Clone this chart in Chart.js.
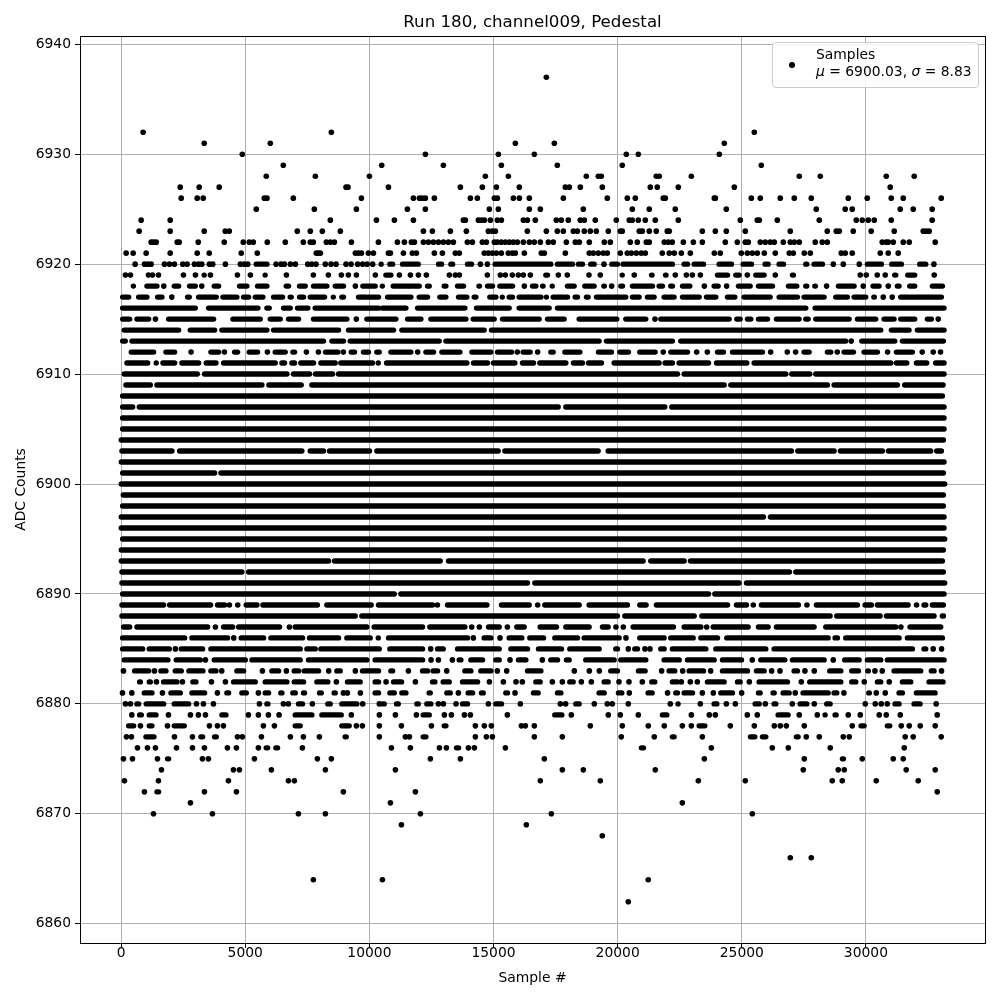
<!DOCTYPE html>
<html>
<head>
<meta charset="utf-8">
<title>Run 180, channel009, Pedestal</title>
<script src="https://cdn.jsdelivr.net/npm/chart.js@4"></script>
<style>
  html, body { margin: 0; padding: 0; background: #fff; }
  #wrap { position: relative; width: 1000px; height: 1000px; }
  #legendBox {
    position: absolute; left: 772px; top: 42px; width: 205px; height: 44px;
    background: rgba(255,255,255,0.8); border: 1px solid #ccc; border-radius: 4px;
    font-family: "DejaVu Sans"; font-size: 13.89px; line-height: 17px; color: #000;
  }
  #legendDot { position: absolute; left: 16px; top: 19px; width: 6px; height: 6px; border-radius: 50%; background: #000; }
  #legendText { position: absolute; left: 43px; top: 3px; white-space: pre; }
  #legendText i { font-style: oblique; }
</style>
</head>
<body>
<div id="wrap">
  <canvas id="chart" width="1000" height="1000"></canvas>
  <div id="legendBox">
    <div id="legendDot"></div>
    <div id="legendText">Samples
<i>μ</i> = 6900.03, <i>σ</i> = 8.83</div>
  </div>
</div>
<script>
// Samples, one list per ADC value. A plain number is a lone
// sample; a pair is a stretch where the dots merge, given as its inked left and right edge.
const row6937 = [17127];
const row6932 = [887, 8467, 25504];
const row6931 = [3347, 6008, 15879, 17449, 24296];
const row6930 = [4879, 12255, 15194, 16643, 20347, 20831, 24095];
const row6929 = [6532, 10497, 12980, 15315, 17569, 20186, 25785];
const row6928 = [5846, 7822, 10000, 14671, 15597, 18737, 19220, 19341, 21555, 21676, 22967, 27315, 28161, 30818, 31945];
const row6927 = [2379, 3145, 3951, 9058, 9140, 10766, 13664, 14550, 15114, 16040, 17892, 18053, 18495, 19381, 21314, 21595, 22441, 24698, 30979];
const row6926 = [2419, 3064, 3306, 5766, 5873, 6935, 9677, 11772, 12014, 12134, 12255, 12617, 14067, 14349, 15033, 15154, 15798, 16040, 16442, 17811, 19582, 20388, 20710, 21837, 21918, 23893, 23934, 25383, 25745, 26550, 27114, 27798, 29288, 30053, 31019, 31503, 33032];
const row6925 = [5443, 7782, 9475, 11530, 12255, 14832, 15194, 16442, 16885, 18616, 20589, 21273, 22320, 24376, 27999, 29167, 29449, 31382, 31905, 32670];
const row6924 = [806, 1976, 8427, 10282, 11007, 11772, 13785, 13866, 14389, 14510, 14630, 14872, 15154, 15315, 16201, 16362, 16684, 17529, 17730, 18012, 18495, 18656, 19099, 19945, 20468, 20589, 20831, 21112, 21515, 22441, 24940, 25624, 25705, 26430, 28121, 29610, 29852, 30093, 30335, 31019, 32670];
const row6923 = [726, 1976, 3347, 4193, 4355, 7096, 7620, 8104, 8830, 12175, 12537, 13262, 13906, 14792, 14953, 15073, 16362, 17127, 17569, 17811, 18214, 18375, 18656, 18898, 19140, 19623, 20106, 20186, 20871, 20992, 21273, 21555, 21998, 22079, 23410, 23934, 24376, 25141, 26953, 28443, 28805, 28926, 29489, 30214, 31140, 32308, 32428, 32549];
const row6922 = [1210, 1304, 1411, 2258, 2339, 3105, 4153, 4919, 5161, 5322, 5887, 6612, 7338, 7620, 7741, 8266, 8427, 8588, 9274, 10362, 11128, 11410, 11691, 11812, 12175, 12376, 12577, 12779, 12980, 13181, 13382, 13946, 14147, 14550, 14711, 15033, 15154, 15315, 15476, 15637, 15798, 15959, 16201, 16442, 16643, 16885, 17207, 17408, 17932, 18294, 18455, 18858, 19462, 19703, 20508, 20790, 21152, 21273, 21877, 22039, 22199, 22645, 23048, 23410, 24336, 24819, 25141, 25262, 25745, 25946, 26148, 26309, 26671, 26953, 27114, 27315, 27959, 28241, 28443, 30657, 30818, 30899, 31100, 31503, 31744, 32791];
const row6921 = [202, 484, 1008, 1976, 3064, 3548, 4838, 5484, 7862, 7943, 8024, 9435, 9556, 9677, 9959, 10161, 10766, 10846, 11369, 11732, 11893, 12617, 12940, 13463, 13624, 14630, 14791, 14953, 15114, 15315, 15597, 15758, 15879, 16241, 16925, 17046, 17892, 18858, 19019, 19220, 19421, 19582, 20106, 20388, 20549, 20750, 20951, 21112, 21797, 22079, 22280, 22565, 22927, 23893, 24135, 24980, 25222, 25423, 25624, 25906, 26349, 26913, 27074, 27517, 27758, 29006, 29167, 29449, 30577, 30899, 31301];
const row6920 = [564, 939, 1074, 1208, 1745, 1946, 2147, 2483, 2657, 2952, 3113, 3248, 3556, 3690, 4200, 4804, 4965, 5100, [5341, 5972], 6240, 6442, 6576, 6817, 7018, 7515, 7676, 7850, 8226, 8455, 8656, 9058, 9260, 9528, 9729, 9904, 10132, [10430, 10537], [10725, 11034], [11235, 12067], [12685, 13007], [13181, 13450], [13852, 14215], 14469, 14751, [14966, 17408], [17476, 18281], [18321, 18683], [18817, 19153], 19448, [19663, 20092], [20119, 22306], [22578, 22914], [22981, 23558], [23987, 24685], [24953, 25490], [25839, 26161], [26403, 26779], [27476, 27718], [27812, 28349], 28684, 29087, 29731, [29959, 30724], [30939, 31529], [32066, 32509], 32737];
const row6919 = [174, 376, 1100, 1261, 1503, 2510, 2993, [3274, 3436], 3597, 4684, 5207, [5744, 5878], 6656, 7743, 8347, 8871, 9152, 9475, 10239, [10564, 10967], 11208, 11651, 11973, 12295, 13221, 13463, 13624, 14751, 15275, 15476, 15758, 15999, 16201, 16482, [17006, 17274], 17610, 17972, 18844, 19301, [20092, 20294], 20669, [21273, 21475], [21837, 22039], 22320, 22766, 23008, 23330, [23920, 24524], [24658, 24994], 25222, [25463, 26000], 26349, [26940, 27181], 29771, 30013, 30456, 30778, [31060, 31301], [31583, 32066], 32750];
const row6918 = [[403, 604], [939, 1543], 1718, [2040, 2416], [2657, 3087], 3248, [3650, 4026], [4670, 5167], [5395, 5972], [6549, 6844], [7086, 7515], [7649, 8388], [8522, 9058], 9434, [9636, 10333], [10430, 10631], [10859, 12108], [12242, 12510], [12913, 13181], [13450, 13892], [14322, 14523], [14657, 15060], [15154, 15865], 16241, [16469, 16805], [16898, 17073], [17274, 17476], [17878, 18348], [18576, 19153], [19354, 19556], 19757, [20025, 20294], [20495, 21502], [21569, 21904], [22039, 22306], [22511, 23008], 23491, [23786, 24148], 24390, [24766, 25437], [25571, 26336], [26779, 27315], [27476, 27718], [27852, 28053], 28416, [28792, 29624], 29892, [30187, 30630], 30899, [31167, 31435], [31664, 32066], [32576, 33180]];
const row6917 = [[-40, 403], [604, 1141], [1369, 1745], 2040, [2577, 2845], [3020, 3932], [3999, 4764], [4831, 5234], [5301, 5811], [6039, 6603], [6710, 6952], [7086, 7448], [7515, 8294], [8455, 8656], [8790, 9058], [9461, 10468], [10631, 11772], [11906, 12443], [12738, 13181], [13490, 14027], [14121, 14389], [14751, 15194], [15261, 15463], [15530, 15865], [15932, 17006], [17073, 17207], [17301, 18079], [18187, 18482], [18643, 18911], [19046, 20428], [20495, 20965], [21099, 21569], [21770, 22374], [22511, 23383], [23477, 24054], [24323, 24819], [24994, 26242], [26403, 27342], [27409, 28416], [28684, 29355], [29422, 30093], [30228, 30429], 30697, 31059, [31301, 33140]];
const row6916 = [[-40, 3087], [3422, 5610], [5771, 6066], [6442, 6911], [7005, 7622], [7716, 10468], [10430, 11571], [11839, 13946], [14215, 15731], [15932, 17341], [17476, 27678], [27852, 33247]];
const row6915 = [[-40, 443], [537, 1208], 1382, [1812, 3825], [4402, 5704], [5905, 6509], [6643, 7247], [7649, 9193], 9475, [9797, 11168], [11437, 12175], [12376, 13986], [14081, 15127], [15261, 16938], [17073, 17945], [18348, 20065], [20227, 21233], 21502, [21636, 24591], [24698, 25034], [25128, 25463], [25571, 26134], [26295, 27409], [27476, 27772], [27879, 29422], [29557, 30496], [30630, 31234], [31301, 32066], [32375, 32737], 32912];
const row6914 = [[27, 2416], [2684, 3865], [3959, 5972], [6039, 8857], [9058, 11074], [11208, 14724], [14818, 30697], [30925, 31838], [31972, 33247]];
const row6913 = [[-40, 268], [335, 8254], [8388, 9058], [9125, 12913], [12980, 19354], [19448, 22306], [22441, 29288], 29409, [29731, 31261], [31368, 33220]];
const row6912 = [[309, 1409], [1704, 2255], 2818, [3516, 4026], 4160, [4469, 4791], [5059, 5596], 5891, [6106, 6710], [6817, 7086], 7462, 7945, [8133, 8830], 8951, [9166, 9501], [9662, 10065], [10199, 10497], [10766, 11772], 11946, [12175, 12685], [12819, 13745], [14027, 14993], [15060, 15825], 15959, [16093, 16576], 16778, [17207, 17502], [17771, 18576], [19126, 19851], [19985, 20535], [20790, 21609], 21837, [22039, 22914], 23182, 23611, [23920, 24363], [24524, 25933], 26161, 26832, 27168, [27409, 27812], [28349, 28684], 28845, [29020, 29597], [29825, 30563], 30872, [31127, 31972], 32267, 32710, 33005];
const row6911 = [[134, 1168], [1342, 1503], [1584, 2255], [2349, 3221], [3328, 3919], [4026, 6307], [6375, 6683], [6777, 7086], [7139, 7851], [7945, 8723], [8750, 10226], [10266, 10468], [10591, 14027], [14094, 14859], [14899, 15959], [16066, 16711], [16764, 18012], [18120, 18683], [18724, 19448], [19757, 21770], [21810, 22306], [22374, 23759], [23880, 25302], [25396, 31100], [31127, 31744], [31932, 32549], [32710, 33247]];
const row6910 = [[27, 3167], [3261, 6777], [6844, 7690], [7730, 8616], [8656, 22508], [22578, 26872], [26913, 27839], [27879, 33247]];
const row6909 = [[94, 1275], [1342, 5771], [5851, 7354], [7582, 24390], [24457, 28550], [28617, 31368], [31462, 33207]];
const row6908 = [[-40, 33180]];
const row6907 = [[-40, 564], [631, 17704], [17811, 21998], [22079, 33247]];
const row6906 = [[-40, 33247]];
const row6905 = [[-40, 33247]];
const row6904 = [[-94, 33220]];
const row6903 = [[-67, 2147], [2255, 7381], [7515, 8254], [8294, 10105], [10199, 15288], [15355, 19314], [19515, 27101], [27154, 28818], [28872, 30764], [30804, 32710], [32750, 33140]];
const row6902 = [[-94, 33247]];
const row6901 = [[-40, 3865], [3919, 33220]];
const row6900 = [[-94, 33274]];
const row6899 = [[-13, 33220]];
const row6898 = [[-40, 33220]];
const row6897 = [[-94, 25973], [26054, 33247]];
const row6896 = [[-94, 33247]];
const row6895 = [[-40, 33274]];
const row6894 = [[-94, 33220]];
const row6893 = [[-94, 8455], [8495, 12953], [13087, 21126], [21233, 22780], [22833, 33180]];
const row6892 = [[-67, 4965], [5033, 27020], [27074, 33220]];
const row6891 = [[-67, 16469], [16563, 24994], [25088, 33274]];
const row6890 = [[-40, 11101], [11168, 23759], [23813, 33247]];
const row6889 = [[-67, 1812], [1852, 3704], [3784, 4268], 4362, 4697, [4938, 5569], [5610, 8005], [8186, 10172], [10266, 12644], 12738, [13047, 14832], [15221, 16536], 16778, [16965, 18549], [18750, 20495], [20790, 21247], [21461, 24524], [24685, 25289], 25463, [25691, 27382], 27624, [27906, 29758], [29865, 30322], [30362, 31798], 32039, [32240, 32509], [32576, 33220]];
const row6888 = [[-67, 9528], [9595, 20092], [20186, 23182], [23289, 28657], [28724, 30670], [30724, 32844], [32979, 33220]];
const row6887 = [[0, 443], [537, 3583], 3798, [4026, 4590], [4630, 6482], 6777, [6911, 9998], [10092, 12242], [12336, 13946], 14121, 14429, [14698, 15328], 15556, [15838, 16335], [16778, 17637], [17811, 18952], [19287, 19717], 19931, 20227, [20522, 22347], [22578, 23450], 23585, [23746, 25356], [25571, 26161], [26295, 28013], [28282, 31301], 31408, [31677, 33113]];
const row6886 = [[-40, 2657], [2751, 4388], 4536, [4737, 5838], [5932, 7408], [7488, 8857], [8991, 10132], [10266, 10468], [10672, 14053], 14188, [14523, 14993], 15261, [15530, 16241], [16362, 17113], [17368, 18482], [18549, 20159], 20334, [20790, 21971], [22039, 23142], [23249, 24121], [24296, 28577], [28657, 28952], [29087, 31435], [31570, 33180]];
const row6885 = [[-40, 966], [1033, 2040], 2187, [2322, 3382], [3516, 7314], [7381, 7918], [7945, 10497], [10725, 12242], 12470, [12644, 13074], [13450, 15328], [15597, 16469], [16711, 17838], [17972, 19354], [19824, 20092], 20428, [20589, 20898], 21099, 21300, [21636, 21971], [22105, 23652], [23853, 26067], [26202, 31972], [32240, 32509], 32710, 33045];
const row6884 = [[27, 1986], [2120, 3288], 3395, [3650, 5100], [5167, 7314], [7448, 9998], [10132, 12242], 12483, 12779, 13342, [13517, 13785], [13986, 14657], [14993, 15328], 15664, [15905, 16402], 16965, [17207, 17677], [17838, 18147], [18616, 19958], [20025, 21233], [21770, 22578], [22712, 23987], [24121, 25088], 25423, [25665, 26832], [26940, 28416], 28684, [29046, 29825], [29959, 30697], [30764, 33247]];
const row6883 = [94, [443, 1208], 1342, [1503, 1906], [2080, 2523], [2630, 3395], [3516, 3919], 4053, [4563, 5033], 5690, [5972, 6442], 6656, [6871, 7247], [7274, 8052], 8361, [8589, 8924], 9434, [9622, 10468], [10766, 11034], 11571, [12040, 12443], [12470, 12846], 13114, [13745, 14188], [14389, 14993], 15154, 15530, [16268, 17006], 18254, 18858, 19261, [19623, 20092], [20737, 21206], 21770, [21971, 22400], 22618, [22779, 23558], 23746, [24121, 25329], [25490, 26000], 26202, 26537, [27007, 27342], 27543, 27919, [28443, 29087], [29328, 29798], [29986, 30187], 30362, 30657, [31033, 32308], [32536, 32844], 33045];
const row6882 = [[644, 872], [1033, 1275], 1423, [1610, 2349], 2469, [2791, 3113], 3637, 4200, [4429, 5502], [5704, 6777], [6871, 7448], [7784, 8428], 8669, [9018, 9729], [10132, 10468], 10672, [10873, 11396], 11853, [12443, 12738], [12872, 13315], [13651, 14456], 14832, 15395, 15905, 16160, [16603, 16979], 17368, 17771, [17972, 18308], 18536, 18938, [19354, 19717], 20052, 20455, 20992, [21273, 21595], [22105, 22508], 22565, 22927, 23209, [23517, 24390], [24725, 25034], 25302, [25598, 26940], 27396, [27637, 29087], [29328, 29691], 29932, [30362, 30697], 30939, [31368, 31905], [32442, 33207]];
const row6881 = [54, 430, [832, 1342], 1664, [1906, 2483], [2751, 3462], 3878, [4160, 4429], [4764, 5140], 5529, [5704, 6039], [6334, 6576], [6817, 7113], [7247, 7488], [7891, 8160], [8481, 8723], 8951, 9112, 9636, [10132, 10468], [10725, 11101], [11208, 11571], [12309, 12550], [13020, 13356], 13584, [13879, 14255], [14416, 14684], [15395, 15664], 15865, [16509, 16898], [17476, 17811], [19153, 19556], [19931, 20267], 20468, [21126, 21488], 22011, [22240, 22508], [22578, 23115], 23410, 23853, [24054, 24725], 24994, [25571, 25839], [26161, 26403], [26564, 27007], 27154, [27369, 28577], [28617, 28926], 29113, [30026, 30228], 30415, 30778, [31234, 31570], [31932, 32885]];
const row6880 = [174, 376, [537, 805], [913, 1812], [2040, 2818], 3033, 3315, 3717, 5569, [5771, 6012], 6536, 6737, [7046, 7408], 7703, [8227, 8522], [8790, 9595], 9730, 10400, [10430, 10698], [10994, 11262], [11812, 12068], [12215, 12577], 12779, 12980, 13490, [13651, 14053], 14792, [14993, 15422], 16080, 17690, 17905, [18214, 18549], 19059, 19582, 19784, 20428, 22119, [22374, 22511], 23330, [23786, 24095], 24376, 24739, [25437, 25799], 25947, [26202, 26470], 27034, [27248, 27718], 27919, [28322, 28657], 29973, 30375, 30617, 30858, [31073, 31435], [31838, 32280], 32831];
const row6879 = [430, [644, 913], [1033, 1503], 1906, 2791, 3113, 3395, [3959, 4321], 5127, 5529, 5932, 6361, [6911, 7784], [7985, 8965], 9273, 10400, 11047, 11893, [12067, 12510], 13020, 13302, 13825, 14067, 15556, [17368, 17851], 18133, 19623, 20106, 20831, [21703, 22079], 22967, 23692, 23934, 25222, 25624, [26363, 26966], 27315, 28040, [28255, 28483], [28657, 28899], 29288, 29771, 30536, 30818, 31382, 32871];
const row6878 = [[201, 604], 778, [1033, 1342], 1865, [2040, 2644], 3556, 3878, 4120, 5730, 6173, [6911, 7314], [8790, 9287], 9475, 9716, 10400, 11289, 12497, [12913, 13181], 14268, 14630, 14912, 16120, 16281, 16643, 18898, 20186, 21233, 21877, 22605, 22967, [23182, 23611], 24537, 25504, 26309, 26550, 26792, 27517, 29449, [29704, 30026], [30764, 31059], 31422, 31744, 32187, 32791];
const row6877 = [215, 416, [899, 1423], 2147, 2872, [3113, 3382], [3664, 3932], 4684, 4885, 5650, 6817, 7341, 7985, [8924, 9166], 10400, 11450, 11611, [12067, 12376], 14268, 14711, 14953, 16643, 17771, 20146, 21475, [22105, 22374], 23410, [25248, 25624], [25732, 26067], [27100, 27369], 27597, 28121, 29087, 29328, 31583, 31905, 33032];
const row6876 = [658, 1060, 1382, 2228, 2872, 3355, 4281, 4643, 5529, [5744, 6000], [6133, 6401], 7301, 10886, 11651, 12819, 13101, [13409, 13691], 13986, 14228, 15476, [20857, 21139], 23772, 26228, 26873, 28563, 31543];
const row6875 = [94, 456, 1463, [1771, 2013], 3274, 3516, 5368, 7904, 8468, 12456, 13664, 17046, 23491, 27517, [28953, 29194], 29852, 31100, 31503];
const row6874 = [1624, 4523, 4764, 6052, 8227, 11047, 17771, 18616, 21515, 27476, 28885, 29127, 31623, 32791];
const row6873 = [134, 1503, 4321, 6737, 6978, 16885, 19301, 23249, 25141, 28644, 29046, 30415, 32106];
const row6872 = [939, [1342, 1610], 3355, 4643, 8951, 11853, 32871];
const row6871 = [2791, 10846, 22605];
const row6870 = [1302, 3677, 7139, 8227, 12054, 17328, 25423];
const row6869 = [11289, 16321];
const row6868 = [19381];
const row6866 = [26953, 27798];
const row6864 = [7743, 10524, 21233];
const row6862 = [20428];

const rowValues = [6937, 6932, 6931, 6930, 6929, 6928, 6927, 6926, 6925, 6924, 6923, 6922, 6921, 6920, 6919, 6918, 6917, 6916, 6915, 6914, 6913, 6912, 6911, 6910, 6909, 6908, 6907, 6906, 6905, 6904, 6903, 6902, 6901, 6900, 6899, 6898, 6897, 6896, 6895, 6894, 6893, 6892, 6891, 6890, 6889, 6888, 6887, 6886, 6885, 6884, 6883, 6882, 6881, 6880, 6879, 6878, 6877, 6876, 6875, 6874, 6873, 6872, 6871, 6870, 6869, 6868, 6866, 6864, 6862];
const rowMarks = [row6937, row6932, row6931, row6930, row6929, row6928, row6927, row6926, row6925, row6924, row6923, row6922, row6921, row6920, row6919, row6918, row6917, row6916, row6915, row6914, row6913, row6912, row6911, row6910, row6909, row6908, row6907, row6906, row6905, row6904, row6903, row6902, row6901, row6900, row6899, row6898, row6897, row6896, row6895, row6894, row6893, row6892, row6891, row6890, row6889, row6888, row6887, row6886, row6885, row6884, row6883, row6882, row6881, row6880, row6879, row6878, row6877, row6876, row6875, row6874, row6873, row6872, row6871, row6870, row6869, row6868, row6866, row6864, row6862];

const xTicks = [0, 5000, 10000, 15000, 20000, 25000, 30000];
const yTicks = [6860, 6870, 6880, 6890, 6900, 6910, 6920, 6930, 6940];

// merged stretches are stored edge to edge, the round line cap adds the rest back
const capInset = 100;

const samplePoints = [];
const runPoints = [];
rowValues.forEach((y, i) => {
  rowMarks[i].forEach(mark => {
    if (typeof mark === "number") {
      samplePoints.push({ x: mark, y: y });
    } else {
      const inset = Math.min(capInset, (mark[1] - mark[0]) / 2 - 10);
      runPoints.push({ x: mark[0] + inset, y: y });
      runPoints.push({ x: mark[1] - inset, y: y });
      runPoints.push({ x: null, y: null });
    }
  });
});

const frame = {
  id: "frame",
  afterDatasetsDraw(chart) {
    const a = chart.chartArea;
    const ctx = chart.ctx;
    ctx.save();
    ctx.strokeStyle = "#000";
    ctx.lineWidth = 1;
    ctx.strokeRect(a.left + 0.5, a.top + 0.5, a.right - a.left, a.bottom - a.top);
    ctx.restore();
  }
};

Chart.defaults.font.family = "DejaVu Sans";
Chart.defaults.color = "#000";

new Chart(document.getElementById("chart"), {
  type: "scatter",
  data: {
    datasets: [
      {
        label: "Samples",
        data: samplePoints,
        backgroundColor: "#000",
        borderWidth: 0,
        pointRadius: 2.8
      },
      {
        label: "Samples (merged)",
        data: runPoints,
        showLine: true,
        spanGaps: false,
        tension: 0,
        pointRadius: 0,
        borderColor: "#000",
        borderWidth: 5.4,
        borderCapStyle: "round"
      }
    ]
  },
  options: {
    responsive: false,
    animation: false,
    events: [],
    layout: { padding: { right: 15, top: 0, bottom: 0, left: 0 } },
    plugins: {
      legend: { display: false },
      tooltip: { enabled: false },
      title: {
        display: true,
        fullSize: false,
        text: "Run 180, channel009, Pedestal",
        color: "#000",
        font: { size: 16.67, weight: "normal", lineHeight: 1.2 },
        padding: { top: 13, bottom: 3 }
      }
    },
    scales: {
      x: {
        type: "linear",
        min: -1657,
        max: 34796,
        afterFit(scale) { scale.height = 57; },
        afterBuildTicks(scale) { scale.ticks = xTicks.map(v => ({ value: v })); },
        title: { display: true, text: "Sample #", color: "#000", font: { size: 13.89 }, padding: { top: 4, bottom: 13 } },
        border: { color: "#000", width: 1 },
        grid: { color: "#b0b0b0", lineWidth: 1, tickColor: "#000", tickLength: 5 },
        ticks: { color: "#000", font: { size: 13.89 }, padding: -2.5, maxRotation: 0, autoSkip: false, callback: v => String(v) }
      },
      y: {
        type: "linear",
        min: 6858.25,
        max: 6940.75,
        afterFit(scale) { scale.width = 80; },
        afterBuildTicks(scale) { scale.ticks = yTicks.map(v => ({ value: v })); },
        title: { display: true, text: "ADC Counts", color: "#000", font: { size: 13.89 }, padding: { top: 13, bottom: 0 } },
        border: { color: "#000", width: 1 },
        grid: { color: "#b0b0b0", lineWidth: 1, tickColor: "#000", tickLength: 5 },
        ticks: { color: "#000", font: { size: 13.89 }, padding: 4, autoSkip: false, callback: v => String(v) }
      }
    }
  },
  plugins: [frame]
});
</script>
</body>
</html>
